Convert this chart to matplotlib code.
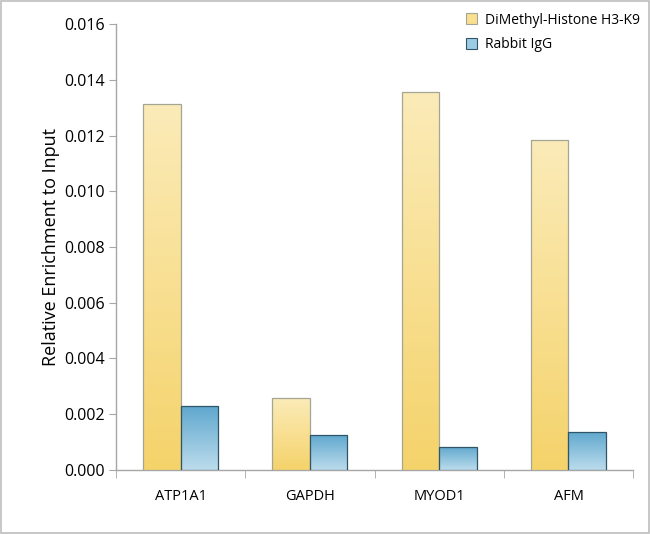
import numpy as np
import matplotlib
import matplotlib.pyplot as plt
from matplotlib.colors import LinearSegmentedColormap
from matplotlib.patches import Rectangle

matplotlib.use("Agg")
plt.rcParams["font.family"] = ["Open Sans", "DejaVu Sans"]

GENES = ["ATP1A1", "GAPDH", "MYOD1", "AFM"]
DIMETHYL = [0.01313, 0.00258, 0.01356, 0.01184]
RABBIT_IGG = [0.00230, 0.00127, 0.00083, 0.00137]
SERIES = ["DiMethyl-Histone H3-K9", "Rabbit IgG"]
YTICKS = [0.000, 0.002, 0.004, 0.006, 0.008, 0.010, 0.012, 0.014, 0.016]

# gradient colors: (top, bottom)
GOLD = ("#fbebb8", "#f5d36b")
BLUE = ("#5ea7ce", "#bcdcec")
GOLD_EDGE = "#a3a595"
BLUE_EDGE = "#2f5566"
AXIS_GREY = "#a6a6a6"


def gradient_fill(ax, bar, top, bottom):
    cmap = LinearSegmentedColormap.from_list("g", [bottom, top])
    x0, y0 = bar.get_x(), bar.get_y()
    w, h = bar.get_width(), bar.get_height()
    grad = np.linspace(0, 1, 256).reshape(-1, 1)
    im = ax.imshow(grad, cmap=cmap, origin="lower", aspect="auto",
                   extent=(x0, x0 + w, y0, y0 + h), zorder=bar.get_zorder() - 0.1)
    im.set_clip_path(bar)


fig = plt.figure(figsize=(6.5, 5.34), dpi=100)
ax = fig.add_axes([0.1785, 0.1199, 0.7955, 0.8351])

x = np.arange(len(GENES))
w = 0.29
bars1 = ax.bar(x - w / 2, DIMETHYL, w, facecolor="none", edgecolor=GOLD_EDGE, linewidth=0.9, zorder=3)
bars2 = ax.bar(x + w / 2, RABBIT_IGG, w, facecolor="none", edgecolor=BLUE_EDGE, linewidth=0.9, zorder=3)
for b in bars1:
    gradient_fill(ax, b, *GOLD)
for b in bars2:
    gradient_fill(ax, b, *BLUE)

ax.set_xlim(-0.5, len(GENES) - 0.5)
ax.set_ylim(0, 0.016)
ax.set_yticks(YTICKS)
ax.set_yticklabels([f"{v:.3f}" for v in YTICKS], fontsize=11.5)
ax.set_xticks(x)
ax.set_xticklabels(GENES, fontsize=10.5)
ax.set_xticks(np.arange(-0.5, len(GENES)), minor=True)
ax.tick_params(axis="x", which="major", length=0, pad=14)
ax.tick_params(axis="x", which="minor", length=6, color=AXIS_GREY, direction="out")
ax.tick_params(axis="y", length=5, color=AXIS_GREY, direction="out", pad=3)
ax.set_ylabel("Relative Enrichment to Input", fontsize=13, labelpad=3)

for s in ["top", "right"]:
    ax.spines[s].set_visible(False)
for s in ["left", "bottom"]:
    ax.spines[s].set_color(AXIS_GREY)
    ax.spines[s].set_linewidth(1.0)

handles = [Rectangle((0, 0), 1, 1, facecolor="#f8e08e", edgecolor=GOLD_EDGE, linewidth=0.8),
           Rectangle((0, 0), 1, 1, facecolor="#9ccbe4", edgecolor=BLUE_EDGE, linewidth=0.8)]
fig.legend(handles, SERIES, loc="upper left", bbox_to_anchor=(0.697, 1.0), frameon=False,
           fontsize=10, handlelength=0.8, handleheight=0.8, handletextpad=0.6, labelspacing=0.7)

fig.patches.append(Rectangle((0.002, 0.002), 0.996, 0.996, transform=fig.transFigure,
                             fill=False, edgecolor="#bdbdbd", linewidth=1.2))

fig.savefig("out.png", dpi=100)
